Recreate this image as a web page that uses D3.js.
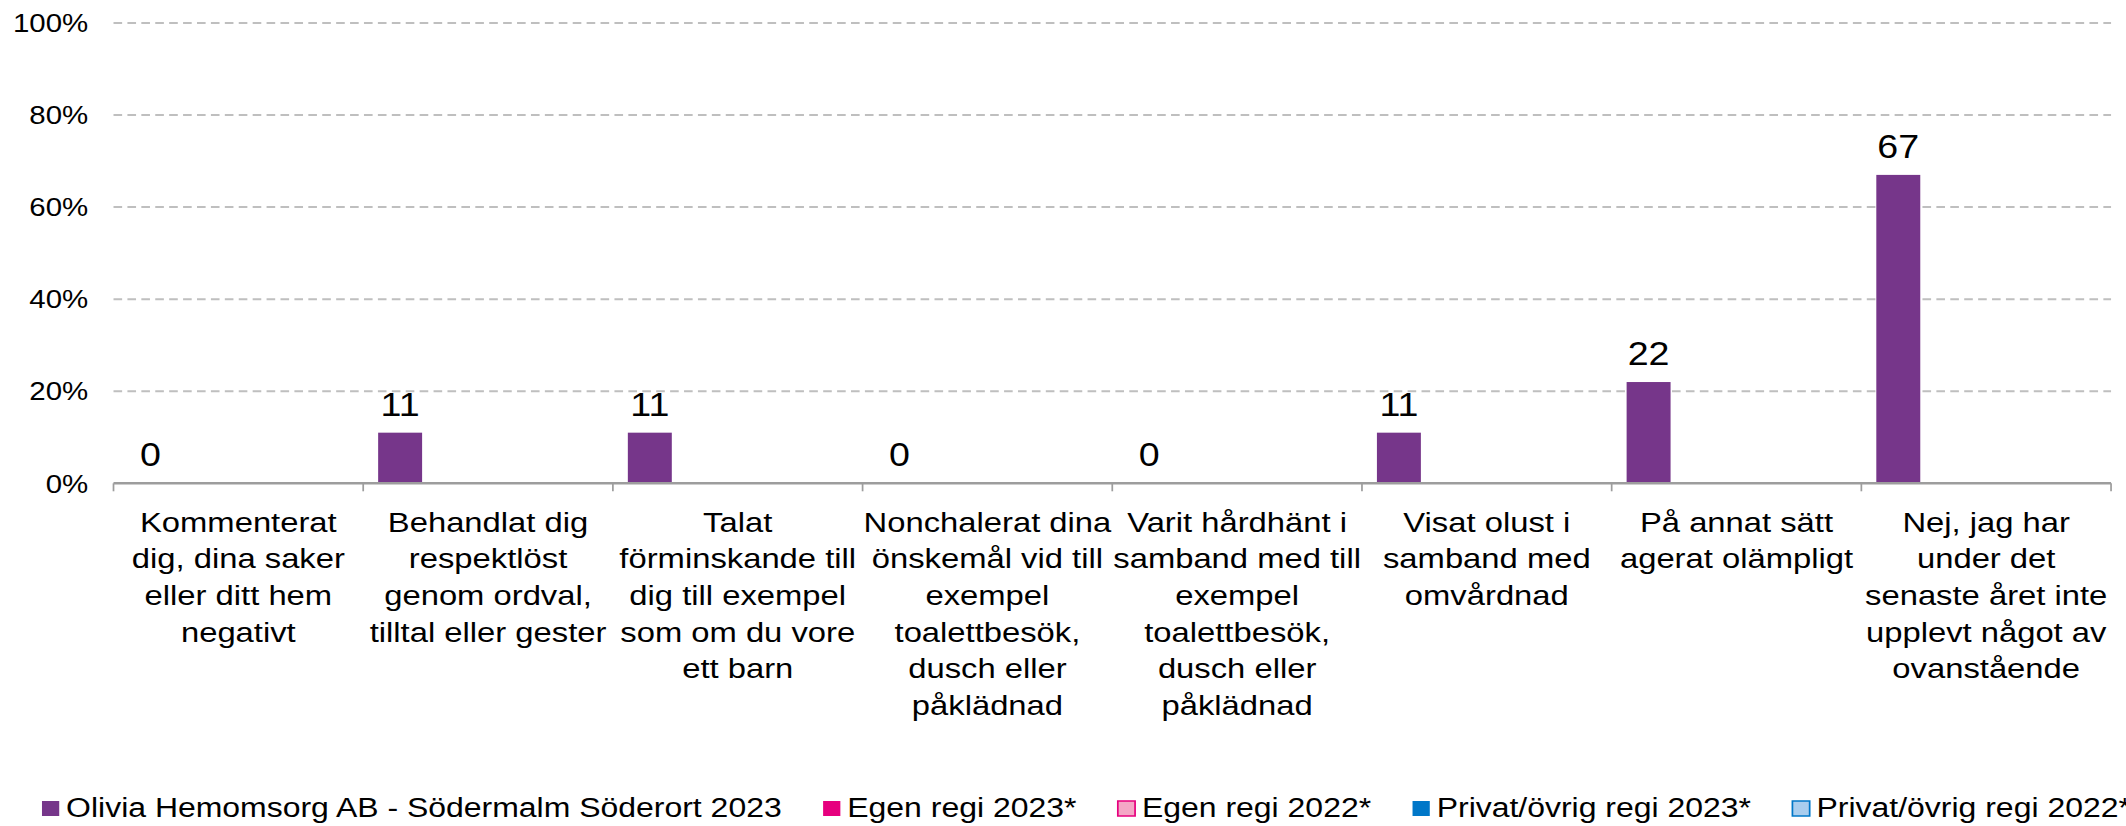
<!DOCTYPE html>
<html>
<head>
<meta charset="utf-8">
<script src="https://cdn.jsdelivr.net/npm/d3@7"></script>
<style>
  body { margin: 0; background: #fff; }
  svg { display: block; }
  text { font-family: "Liberation Sans", Arial, sans-serif; fill: #000; }
</style>
</head>
<body>
<svg id="chart"></svg>
<script>
// kategorier (radbrytningar som i originalet)
const categories = [
  ["Kommenterat", "dig, dina saker", "eller ditt hem", "negativt"],
  ["Behandlat dig", "respektlöst", "genom ordval,", "tilltal eller gester"],
  ["Talat", "förminskande till", "dig till exempel", "som om du vore", "ett barn"],
  ["Nonchalerat dina", "önskemål vid till", "exempel", "toalettbesök,", "dusch eller", "påklädnad"],
  ["Varit hårdhänt i", "samband med till", "exempel", "toalettbesök,", "dusch eller", "påklädnad"],
  ["Visat olust i", "samband med", "omvårdnad"],
  ["På annat sätt", "agerat olämpligt"],
  ["Nej, jag har", "under det", "senaste året inte", "upplevt något av", "ovanstående"]
];

const seriesNames = [
  "Olivia Hemomsorg AB - Södermalm Söderort 2023",
  "Egen regi 2023*",
  "Egen regi 2022*",
  "Privat/övrig regi 2023*",
  "Privat/övrig regi 2022*"
];

// värden i procent, bara första serien har data
const olivia2023 = [0, 11, 11, 0, 0, 11, 22, 67];
const egenRegi2023 = [null, null, null, null, null, null, null, null];
const egenRegi2022 = [null, null, null, null, null, null, null, null];
const privatRegi2023 = [null, null, null, null, null, null, null, null];
const privatRegi2022 = [null, null, null, null, null, null, null, null];

const yTicks = [0, 20, 40, 60, 80, 100];

const seriesFill = ["#76368a", "#e6007e", "#f4a7c6", "#0077c8", "#a9cdee"];
const seriesStroke = [null, null, "#e6007e", null, "#0077c8"];

const allSeries = [olivia2023, egenRegi2023, egenRegi2022, privatRegi2023, privatRegi2022];

// originalet är horisontellt utdraget ca 1.15 ggr
const stretch = 1.15;
const outW = 2126, outH = 826;
const W = outW / stretch, H = outH;

const svg = d3.select("#chart")
  .attr("width", outW)
  .attr("height", outH)
  .attr("viewBox", `0 0 ${W} ${H}`)
  .attr("preserveAspectRatio", "none");

const margin = { left: 98.7, right: W - 1835.7, top: 23, bottom: H - 483.3 };

const x = d3.scaleBand()
  .domain(d3.range(categories.length))
  .range([margin.left, W - margin.right])
  .paddingInner(0)
  .paddingOuter(0);

const xs = d3.scaleBand()
  .domain(d3.range(seriesNames.length))
  .range([0, x.bandwidth()])
  .paddingInner(0)
  .paddingOuter(0.34);

const y = d3.scaleLinear()
  .domain([0, 100])
  .range([H - margin.bottom, margin.top]);

// stödlinjer
svg.append("g")
  .selectAll("line")
  .data(yTicks.filter(d => d > 0))
  .join("line")
  .attr("x1", margin.left)
  .attr("x2", W - margin.right)
  .attr("y1", d => y(d))
  .attr("y2", d => y(d))
  .attr("stroke", "#bfbfbf")
  .attr("stroke-width", 2)
  .attr("stroke-dasharray", "7.5,4.6");

// y-axelns etiketter
svg.append("g")
  .selectAll("text")
  .data(yTicks)
  .join("text")
  .attr("x", margin.left - 22)
  .attr("y", d => y(d))
  .attr("dy", "0.36em")
  .attr("text-anchor", "end")
  .style("font-size", "25.6px")
  .text(d => d + "%");

// staplar
allSeries.forEach((vals, si) => {
  const g = svg.append("g");
  const pts = vals.map((v, i) => ({ i, v })).filter(d => d.v !== null);

  g.selectAll("rect")
    .data(pts.filter(d => d.v > 0))
    .join("rect")
    .attr("x", d => x(d.i) + xs(si))
    .attr("width", xs.bandwidth())
    .attr("y", d => y(d.v))
    .attr("height", d => y(0) - y(d.v))
    .attr("fill", seriesFill[si]);

  g.selectAll("text")
    .data(pts)
    .join("text")
    .attr("x", d => x(d.i) + xs(si) + xs.bandwidth() / 2)
    .attr("y", d => y(d.v) - 17)
    .attr("text-anchor", "middle")
    .style("font-size", "32.7px")
    .text(d => d3.format(".0f")(d.v));
});

// x-axel
const axisY = y(0);
svg.append("line")
  .attr("x1", margin.left)
  .attr("x2", W - margin.right)
  .attr("y1", axisY)
  .attr("y2", axisY)
  .attr("stroke", "#9d9d9d")
  .attr("stroke-width", 2.5);

svg.append("g")
  .selectAll("line")
  .data(d3.range(categories.length + 1))
  .join("line")
  .attr("x1", d => margin.left + d * x.step())
  .attr("x2", d => margin.left + d * x.step())
  .attr("y1", axisY)
  .attr("y2", axisY + 8)
  .attr("stroke", "#9d9d9d")
  .attr("stroke-width", 1.5);

// kategorietiketter
const catG = svg.append("g")
  .selectAll("text")
  .data(categories)
  .join("text")
  .attr("text-anchor", "middle")
  .style("font-size", "28.5px");

catG.selectAll("tspan")
  .data((d, i) => d.map((line, k) => ({ line, k, i })))
  .join("tspan")
  .attr("x", d => x(d.i) + x.bandwidth() / 2)
  .attr("y", d => 531.7 + d.k * 36.7)
  .text(d => d.line);

// förklaring
const legend = svg.append("g");
let lx = 36.5;
seriesNames.forEach((name, si) => {
  legend.append("rect")
    .attr("x", lx)
    .attr("y", 801)
    .attr("width", 15)
    .attr("height", 15)
    .attr("fill", seriesFill[si])
    .attr("stroke", seriesStroke[si] || "none")
    .attr("stroke-width", seriesStroke[si] ? 1.5 : 0);
  const t = legend.append("text")
    .attr("x", lx + 21)
    .attr("y", 817)
    .style("font-size", "27.8px")
    .text(name);
  lx += 21 + t.node().getComputedTextLength() + 36;
});
</script>
</body>
</html>
